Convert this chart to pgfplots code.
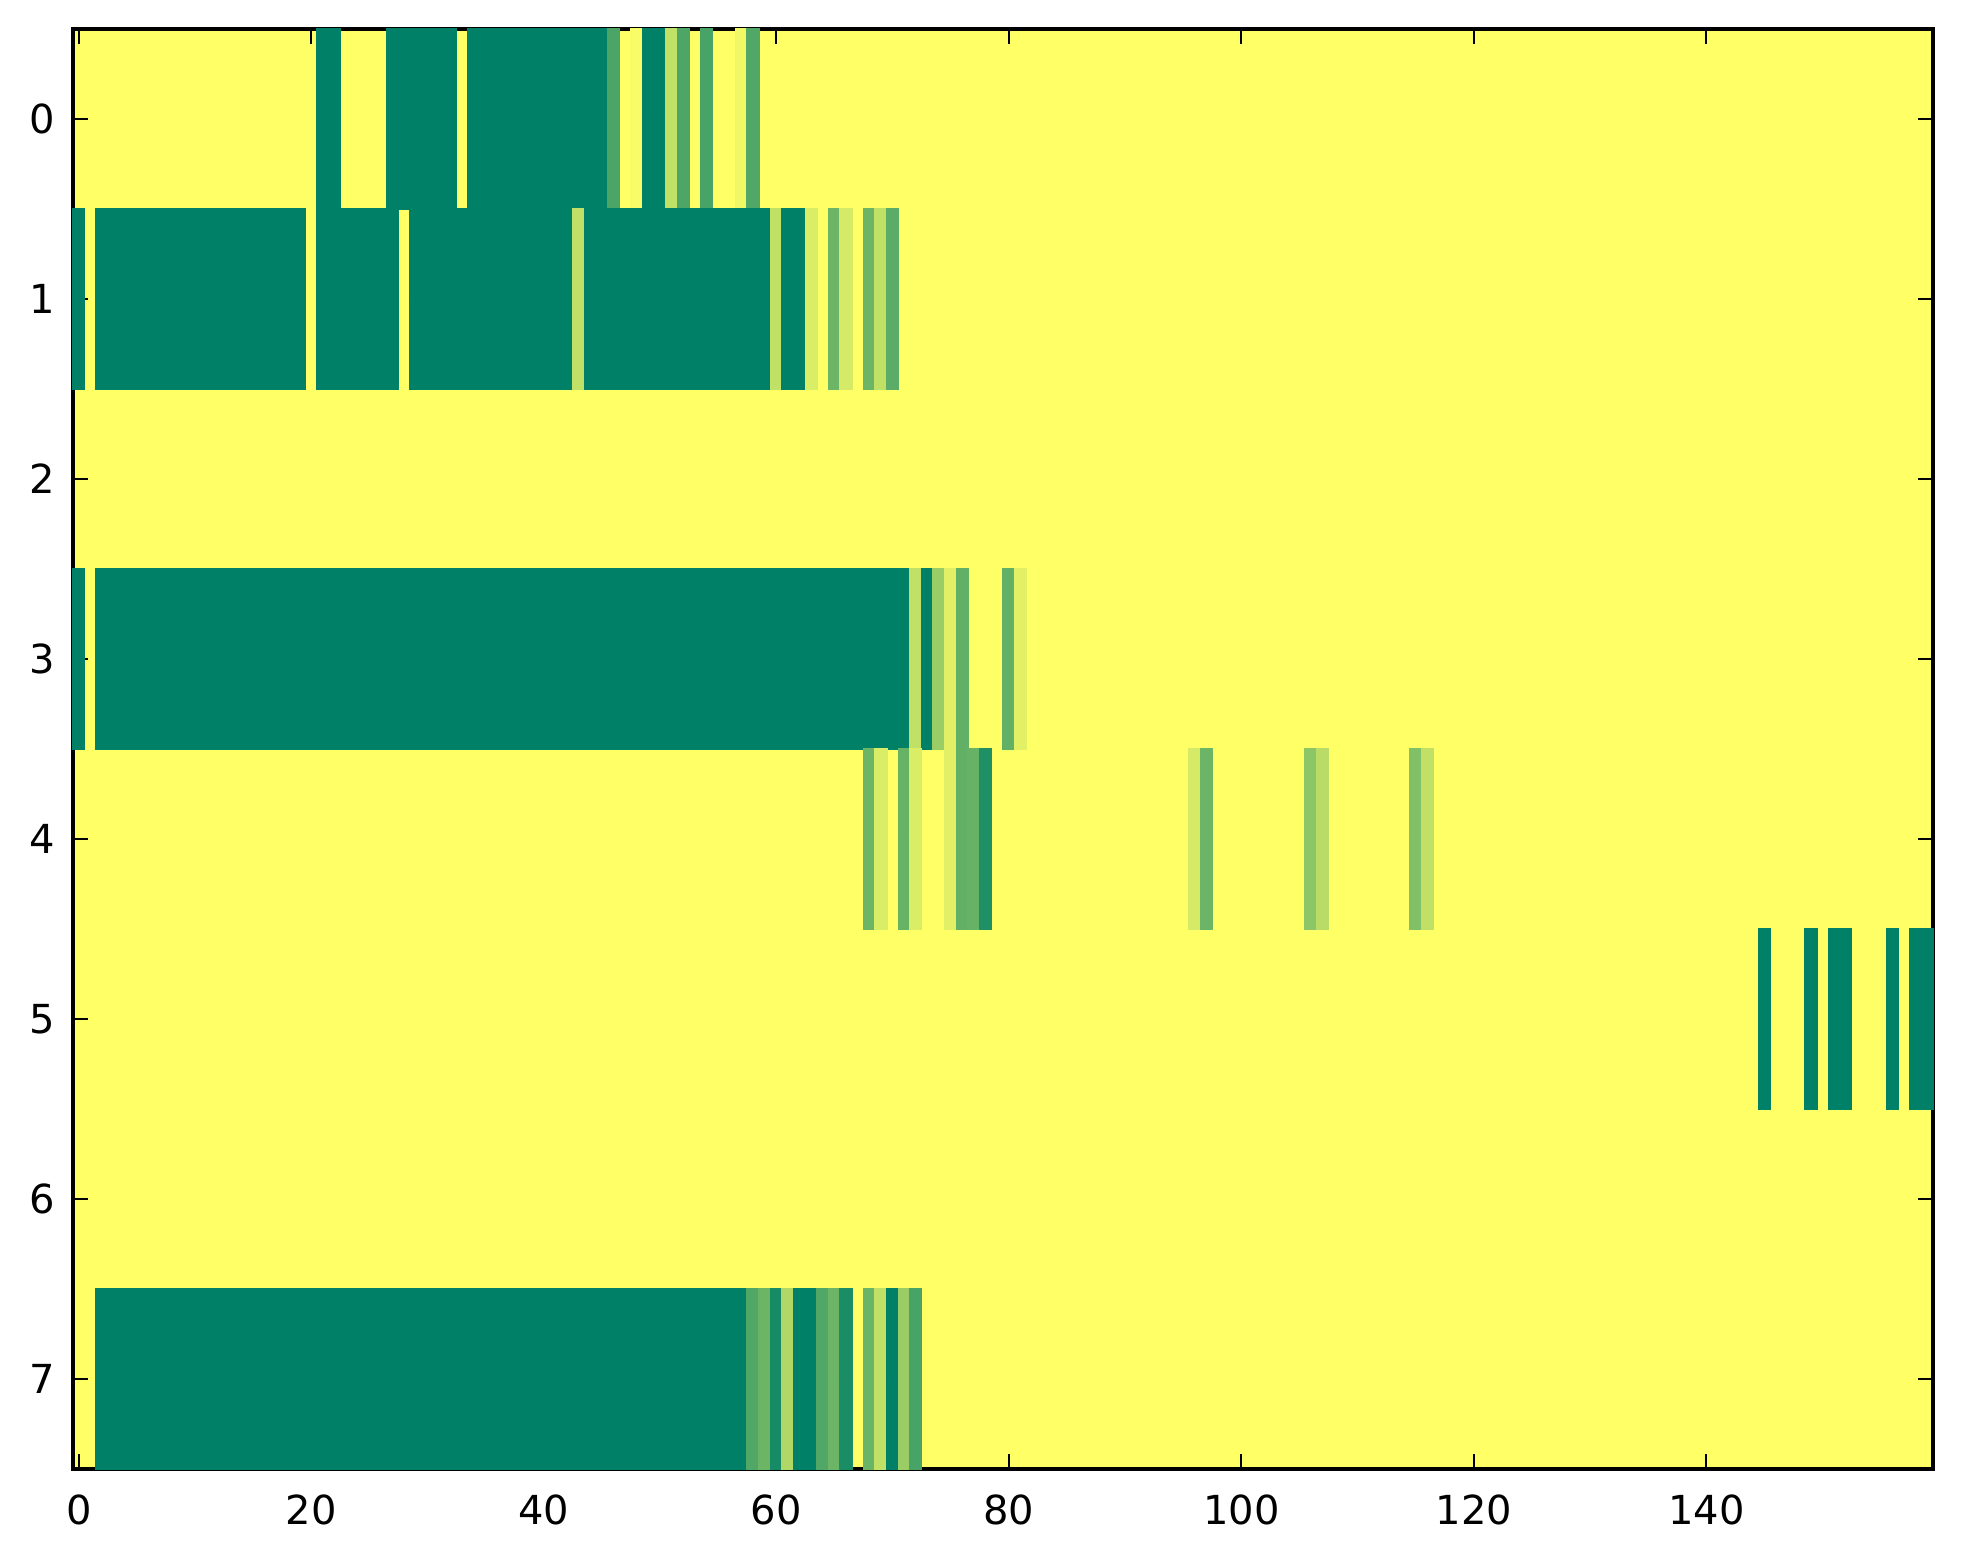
\documentclass[border=0pt]{standalone}
\usepackage{fontspec}
\setmainfont{DejaVu Sans}
\usepackage{pgfplots}
\pgfplotsset{compat=1.18}
\definecolor{sumyellow}{rgb}{1,1,0.4}

\begin{document}
\begin{tikzpicture}
\useasboundingbox (-18.25pt,-23.8pt) rectangle (472.5pt,367.2pt);
\begin{axis}[
  at={(0pt,0pt)}, anchor=south west,
  scale only axis, width=465pt, height=360pt,
  xmin=-0.5, xmax=159.5, ymin=-0.5, ymax=7.5, y dir=reverse,
  xtick={0,20,...,140}, ytick={0,...,7},
  tick align=inside, major tick length=3.75pt,
  every tick/.style={black, line width=0.5pt},
  axis line style={line width=1pt},
  axis on top,
  axis background/.style={fill=sumyellow},
  colormap={summer}{rgb=(0,0.5,0.4) rgb=(1,1,0.4)},
  point meta min=0, point meta max=1,
  tick label style={font=\fontsize{10}{12}\selectfont},
  /pgf/number format/assume math mode=true,
  yticklabel style={xshift=-1pt},
  xticklabel style={yshift=-3pt},
]
% runs of non-yellow cells: start column, row, run length, value (0 = dark green, 1 = yellow)
\addplot[scatter, only marks, mark=square*, mark size=0pt,
  point meta=explicit,
  visualization depends on={value \thisrow{len} \as \runlen},
  scatter/use mapped color={draw=none, fill=none},
  scatter/@pre marker code/.append code={%
     \pgfkeys{/pgf/fpu=false}%
     \pgfmathsetmacro\runright{\runlen-0.5}%
     \fill[mapped color] (axis direction cs:-0.5,-0.5) rectangle (axis direction cs:\runright,0.5);%
  },
] table[x=col, y=row, meta=val] {
col row len val
21 0 2 0
27 0 6 0
34 0 12 0
46 0 1 0.29
48 0 1 0.97
49 0 2 0
51 0 1 0.75
52 0 1 0.30
54 0 1 0.28
57 0 1 0.94
58 0 1 0.31
0 1 1 0
2 1 18 0
21 1 7 0
29 1 14 0
43 1 1 0.75
44 1 16 0
60 1 1 0.75
61 1 2 0
63 1 1 0.85
65 1 1 0.42
66 1 1 0.83
68 1 1 0.42
69 1 1 0.75
70 1 1 0.35
0 3 1 0
2 3 70 0
72 3 1 0.75
73 3 1 0
74 3 1 0.60
75 3 1 0.88
76 3 1 0.38
80 3 1 0.38
81 3 1 0.88
68 4 1 0.42
69 4 1 0.85
71 4 1 0.40
72 4 1 0.85
75 4 1 0.88
76 4 1 0.38
77 4 1 0.40
78 4 1 0.12
96 4 1 0.83
97 4 1 0.42
106 4 1 0.55
107 4 1 0.72
115 4 1 0.50
116 4 1 0.75
145 5 1 0
149 5 1 0
151 5 2 0
156 5 1 0
158 5 2 0
2 7 56 0
58 7 1 0.31
59 7 1 0.42
60 7 1 0.09
61 7 1 0.69
62 7 2 0
64 7 1 0.31
65 7 1 0.42
66 7 1 0.10
68 7 1 0.41
69 7 1 0.75
70 7 1 0
71 7 1 0.60
72 7 1 0.28
};
\end{axis}
\end{tikzpicture}
\end{document}
